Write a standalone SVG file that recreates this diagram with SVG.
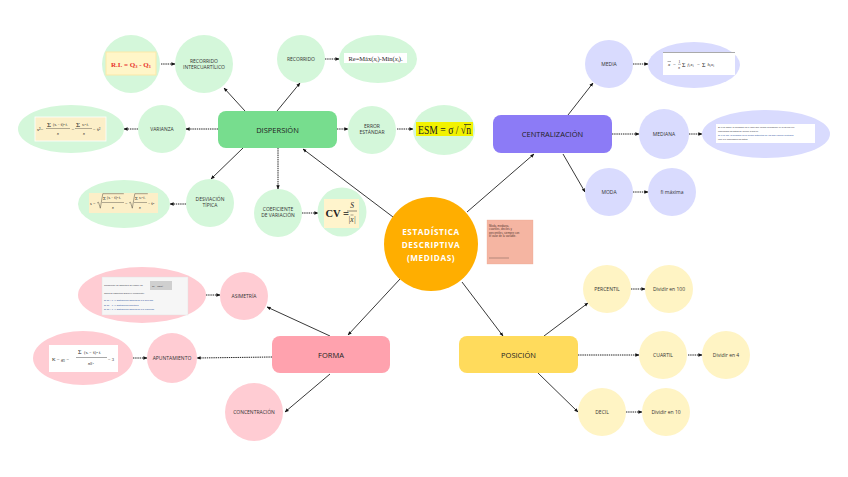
<svg xmlns="http://www.w3.org/2000/svg" width="848" height="477" viewBox="0 0 848 477">
<defs>
<marker id="ah" viewBox="0 0 6 6" refX="5.5" refY="3" markerWidth="4" markerHeight="4" markerUnits="userSpaceOnUse" orient="auto"><path d="M0,0.5 L6,3 L0,5.5 z" fill="#111"/></marker>
<style>
.lab{font-family:"Open Sans","Noto Sans","Liberation Sans",sans-serif;font-size:5px;fill:#333;text-anchor:middle}
.big{font-family:"Open Sans","Noto Sans","Liberation Sans",sans-serif;font-size:7.5px;fill:#222;text-anchor:middle}
.ctr{font-family:"Open Sans","Noto Sans","Liberation Sans",sans-serif;font-size:8.2px;font-weight:bold;fill:#fff;text-anchor:middle;letter-spacing:0.6px}
.fm{font-family:"Liberation Serif","Times New Roman",serif;fill:#222}
.tiny{font-family:"Liberation Sans",sans-serif;font-size:2.3px;fill:#334}
.note{font-family:"Liberation Sans",sans-serif;font-size:2.8px;fill:#553a33}
.g{fill:#D4F7DA}.p{fill:#D9DBFE}.k{fill:#FFCCD3}.y{fill:#FFF4C4}
.c{stroke:#222;stroke-width:0.9;fill:none;marker-end:url(#ah)}
.d{stroke:#222;stroke-width:1;fill:none;stroke-dasharray:1.4 0.8;marker-end:url(#ah)}
</style>
</defs>
<rect width="848" height="477" fill="#fff"/>

<g id="connectors">
<line class="c" x1="393" y1="217" x2="303" y2="149"/>
<line class="c" x1="467" y1="212" x2="534" y2="154"/>
<line class="c" x1="400" y1="279" x2="348" y2="335"/>
<line class="c" x1="462" y1="282" x2="503" y2="336"/>
<line class="c" x1="245" y1="111" x2="224" y2="88"/>
<line class="c" x1="277" y1="111" x2="300" y2="83"/>
<line class="d" x1="337" y1="129" x2="348" y2="129"/>
<line class="d" x1="218" y1="129" x2="186" y2="129"/>
<line class="c" x1="243" y1="148" x2="211" y2="179"/>
<line class="d" x1="278" y1="148" x2="278" y2="189"/>
<line class="d" x1="161" y1="64" x2="175" y2="64"/>
<line class="d" x1="325" y1="59" x2="339" y2="59"/>
<line class="d" x1="397" y1="129" x2="413" y2="129"/>
<line class="d" x1="138" y1="129" x2="124" y2="129"/>
<line class="d" x1="186" y1="204" x2="170" y2="204"/>
<line class="d" x1="302" y1="213" x2="318" y2="213"/>
<line class="c" x1="568" y1="115" x2="593" y2="83"/>
<line class="d" x1="633" y1="64" x2="648" y2="64"/>
<line class="d" x1="612" y1="134" x2="639" y2="134"/>
<line class="d" x1="689" y1="134" x2="702" y2="134"/>
<line class="c" x1="563" y1="154" x2="585" y2="192"/>
<line class="d" x1="633" y1="192" x2="648" y2="192"/>
<line class="c" x1="330" y1="336" x2="267" y2="307"/>
<line class="d" x1="206" y1="295" x2="220" y2="295"/>
<line class="d" x1="272" y1="357" x2="197" y2="358"/>
<line class="d" x1="133" y1="358" x2="147" y2="358"/>
<line class="c" x1="330" y1="374" x2="285" y2="412"/>
<line class="c" x1="544" y1="336" x2="588" y2="303"/>
<line class="d" x1="631" y1="289" x2="645" y2="289"/>
<line class="d" x1="578" y1="355" x2="639" y2="355"/>
<line class="d" x1="688" y1="355" x2="702" y2="355"/>
<line class="c" x1="538" y1="373" x2="578" y2="412"/>
<line class="d" x1="626" y1="412" x2="642" y2="412"/>
</g>

<g id="centro">
<circle cx="431" cy="244" r="47" fill="#FFAE00"/>
<text class="ctr" x="431" y="235">ESTADÍSTICA</text>
<text class="ctr" x="431" y="248">DESCRIPTIVA</text>
<text class="ctr" x="431" y="261">(MEDIDAS)</text>
</g>

<g id="nota">
<rect x="487" y="220" width="46" height="44" fill="#F5B5A2" stroke="#eaa08c" stroke-width="0.3"/>
<text class="note" x="489" y="226.5">Moda, mediana,</text>
<text class="note" x="489" y="230">cuartiles, deciles y</text>
<text class="note" x="489" y="233.5">percentiles, siempre con</text>
<text class="note" x="489" y="237">el valor de la variable.</text>
<rect x="489" y="257.5" width="20" height="1" fill="#8a6a60" opacity="0.6"/>
</g>

<g id="dispersion">
<rect x="218" y="111" width="119" height="37" rx="8" fill="#77DD8E"/>
<text class="big" x="277.5" y="132.5">DISPERSIÓN</text>
</g>
<g id="recorrido-inter">
<circle class="g" cx="204" cy="64" r="29"/>
<text class="lab" x="204" y="62.5">RECORRIDO</text>
<text class="lab" x="204" y="68.5">INTERCUARTÍLICO</text>
</g>
<g id="ri-formula">
<circle class="g" cx="131" cy="64" r="29"/>
<rect x="106" y="52" width="50" height="23" fill="#FFF6C8" stroke="#FBE9A8" stroke-width="1"/>
<text class="fm" x="131" y="66.5" font-size="7" font-weight="bold" text-anchor="middle" style="fill:#E8332A">R.I. = Q<tspan font-size="4.5" dy="1.5">3</tspan><tspan dy="-1.5"> - Q</tspan><tspan font-size="4.5" dy="1.5">1</tspan></text>
</g>
<g id="recorrido">
<circle class="g" cx="301" cy="59" r="24"/>
<text class="lab" x="301" y="61">RECORRIDO</text>
</g>
<g id="re-formula">
<ellipse class="g" cx="378" cy="59" rx="39" ry="24"/>
<rect x="344" y="53" width="63" height="10" fill="#fff"/>
<text class="fm" x="375.5" y="60.8" font-size="6.5" text-anchor="middle">Re=Máx(<tspan font-style="italic">x</tspan><tspan font-size="4" dy="1">i</tspan><tspan dy="-1">)-Mín(</tspan><tspan font-style="italic">x</tspan><tspan font-size="4" dy="1">i</tspan><tspan dy="-1">).</tspan></text>
</g>
<g id="error">
<circle class="g" cx="372" cy="130" r="24"/>
<text class="lab" x="372" y="128">ERROR</text>
<text class="lab" x="372" y="134">ESTÁNDAR</text>
</g>
<g id="esm">
<ellipse class="g" cx="444" cy="130" rx="31" ry="25"/>
<rect x="416" y="122" width="57" height="14" fill="#F2F200"/>
<text class="fm" x="418" y="134" font-size="12" textLength="53" lengthAdjust="spacingAndGlyphs">ESM = σ / √n</text>
<line x1="464" y1="124.5" x2="471" y2="124.5" stroke="#222" stroke-width="0.7"/>
</g>
<g id="varianza">
<circle class="g" cx="162" cy="129" r="24"/>
<text class="lab" x="162" y="131">VARIANZA</text>
</g>
<g id="var-formula">
<ellipse class="g" cx="71" cy="129" rx="53" ry="24"/>
<rect x="35" y="117" width="71" height="24" fill="#FCEFC8" stroke="#fff" stroke-width="0.8"/>
<text class="fm" x="37" y="131" font-size="5">s²=</text>
<text class="fm" x="47" y="127" font-size="7">Σ</text>
<text class="fm" x="53" y="126" font-size="3.6">(x<tspan font-size="2.5">i</tspan> − x̄)² f<tspan font-size="2.5">i</tspan></text>
<line x1="46" y1="128.5" x2="70" y2="128.5" stroke="#222" stroke-width="0.35"/>
<text class="fm" x="57" y="134.5" font-size="3.6" font-style="italic">n</text>
<text class="fm" x="71.5" y="131" font-size="5">=</text>
<text class="fm" x="76" y="127" font-size="7">Σ</text>
<text class="fm" x="82" y="126" font-size="3.6">x<tspan font-size="2.5">i</tspan>² f<tspan font-size="2.5">i</tspan></text>
<line x1="75" y1="128.5" x2="92" y2="128.5" stroke="#222" stroke-width="0.35"/>
<text class="fm" x="83" y="134.5" font-size="3.6" font-style="italic">n</text>
<text class="fm" x="93" y="131" font-size="4.5">− x̄²</text>
</g>
<g id="desviacion">
<circle class="g" cx="210" cy="203" r="24"/>
<text class="lab" x="210" y="201">DESVIACIÓN</text>
<text class="lab" x="210" y="207">TÍPICA</text>
</g>
<g id="desv-formula">
<ellipse class="g" cx="124" cy="204" rx="46" ry="24"/>
<rect x="89" y="193" width="69" height="20" fill="#FCEFC8"/>
<text class="fm" x="90" y="205" font-size="4.5">s =</text>
<path d="M97,203 l1.5,-0.8 l1.8,6 l2.5,-14.5 h21" stroke="#222" stroke-width="0.4" fill="none"/>
<text class="fm" x="103" y="200" font-size="5">Σ</text>
<text class="fm" x="107" y="199" font-size="3.4">(x<tspan font-size="2.4">i</tspan> − x̄)² f<tspan font-size="2.4">i</tspan></text>
<line x1="102" y1="202.5" x2="124" y2="202.5" stroke="#222" stroke-width="0.35"/>
<text class="fm" x="112" y="209" font-size="3.4" font-style="italic">n</text>
<text class="fm" x="125" y="205" font-size="4.5">=</text>
<path d="M129,203 l1.5,-0.8 l1.8,6 l2.5,-14.5 h13" stroke="#222" stroke-width="0.4" fill="none"/>
<text class="fm" x="135" y="200" font-size="5">Σ</text>
<text class="fm" x="139" y="199" font-size="3.4">x<tspan font-size="2.4">i</tspan>² f<tspan font-size="2.4">i</tspan></text>
<line x1="134" y1="202.5" x2="147" y2="202.5" stroke="#222" stroke-width="0.35"/>
<text class="fm" x="139" y="209" font-size="3.4" font-style="italic">n</text>
<text class="fm" x="148" y="205" font-size="3.8">− x̄²</text>
</g>
<g id="coeficiente">
<circle class="g" cx="278" cy="213" r="24"/>
<text class="lab" x="278" y="211">COEFICIENTE</text>
<text class="lab" x="278" y="217">DE VARIACIÓN</text>
</g>
<g id="cv">
<circle class="g" cx="342" cy="212" r="24.5"/>
<rect x="324" y="199" width="35" height="29" fill="#FFF4CC"/>
<text class="fm" x="325.5" y="217" font-size="10.5" font-weight="bold">CV =</text>
<text class="fm" x="352" y="208" font-size="7.5" font-style="italic" text-anchor="middle">S</text>
<line x1="347" y1="211" x2="357" y2="211" stroke="#222" stroke-width="0.5"/>
<text class="fm" x="352" y="222" font-size="7.5" font-style="italic" text-anchor="middle">|x|</text>
<line x1="350.5" y1="215" x2="353.5" y2="215" stroke="#222" stroke-width="0.4"/>
</g>

<g id="centralizacion">
<rect x="493" y="115" width="119" height="38" rx="8" fill="#8C7BF6"/>
<text class="big" x="552.5" y="137">CENTRALIZACIÓN</text>
</g>
<g id="media">
<circle class="p" cx="609" cy="64" r="24"/>
<text class="lab" x="609" y="66">MEDIA</text>
</g>
<g id="media-formula">
<ellipse class="p" cx="694" cy="65" rx="46" ry="23"/>
<rect x="663" y="52" width="72" height="23" fill="#fff"/>
<line x1="663" y1="52.5" x2="735" y2="52.5" stroke="#555" stroke-width="0.5"/>
<text class="fm" x="668" y="66" font-size="5" font-style="italic">x</text>
<line x1="667.5" y1="61.5" x2="671" y2="61.5" stroke="#222" stroke-width="0.35"/>
<text class="fm" x="673" y="66" font-size="5">=</text>
<text class="fm" x="678.5" y="63" font-size="3.5">1</text>
<line x1="678" y1="64.3" x2="681" y2="64.3" stroke="#222" stroke-width="0.3"/>
<text class="fm" x="678.3" y="68.5" font-size="3.5" font-style="italic">n</text>
<text class="fm" x="682" y="66.5" font-size="6">Σ</text>
<text class="fm" x="687.5" y="66" font-size="4.5" font-style="italic">f</text>
<text class="fm" x="689.3" y="67" font-size="3">i</text>
<text class="fm" x="690.5" y="66" font-size="4.5" font-style="italic">x</text>
<text class="fm" x="692.7" y="67" font-size="3">i</text>
<text class="fm" x="697" y="66" font-size="5">=</text>
<text class="fm" x="702" y="66.5" font-size="6">Σ</text>
<text class="fm" x="707.5" y="66" font-size="4.5" font-style="italic">h</text>
<text class="fm" x="709.8" y="67" font-size="3">i</text>
<text class="fm" x="711" y="66" font-size="4.5" font-style="italic">x</text>
<text class="fm" x="713.2" y="67" font-size="3">i</text>
</g>
<g id="mediana">
<circle class="p" cx="664" cy="134" r="25"/>
<text class="lab" x="664" y="136">MEDIANA</text>
</g>
<g id="mediana-formula">
<ellipse class="p" cx="766" cy="134" rx="64" ry="24"/>
<rect x="716" y="124" width="99" height="19" fill="#fff"/>
<text class="tiny" x="718" y="128">Si n es impar, la mediana es el valor que ocupa la posición (n+1)/2 una vez</text>
<text class="tiny" x="718" y="131.5">ordenados los datos de menor a mayor.</text>
<text class="tiny" x="718" y="136" style="fill:#2a4fa0">Si n es par, la mediana es la media aritmética de los dos valores centrales</text>
<text class="tiny" x="718" y="139.5">una vez ordenados los datos.</text>
</g>
<g id="moda">
<circle class="p" cx="609" cy="192" r="24"/>
<text class="lab" x="609" y="194">MODA</text>
</g>
<g id="fi-maxima">
<circle class="p" cx="672" cy="192" r="24"/>
<text class="lab" x="672" y="194">fi máxima</text>
</g>

<g id="forma">
<rect x="272" y="336" width="118" height="37" rx="8" fill="#FFA2AE"/>
<text class="big" x="331" y="357.5">FORMA</text>
</g>
<g id="asimetria">
<circle class="k" cx="244" cy="296" r="24"/>
<text class="lab" x="244" y="298">ASIMETRÍA</text>
</g>
<g id="asim-formula">
<ellipse class="k" cx="142" cy="295" rx="64" ry="28"/>
<rect x="102" y="277" width="86" height="38" fill="#F6F6F6" stroke="#e0e0e0" stroke-width="0.4"/>
<text class="tiny" x="104" y="286">Coeficiente de asimetría de Fisher: g1 =</text>
<rect x="150" y="281" width="22" height="9" fill="#cfcfcf"/>
<text class="tiny" x="152" y="286.5">g1 = m3/s³</text>
<text class="tiny" x="104" y="294">Tipos de asimetría según el coeficiente:</text>
<text class="tiny" x="104" y="301" style="fill:#2a4fa0">Si g1 &gt; 0 → Distribución asimétrica a la derecha</text>
<text class="tiny" x="104" y="305.5" style="fill:#2a4fa0">Si g1 = 0 → Distribución simétrica</text>
<text class="tiny" x="104" y="310" style="fill:#2a4fa0">Si g1 &lt; 0 → Distribución asimétrica a la izquierda</text>
</g>
<g id="apuntamiento">
<circle class="k" cx="172" cy="358" r="25"/>
<text class="lab" x="172" y="360">APUNTAMIENTO</text>
</g>
<g id="apunt-formula">
<ellipse class="k" cx="83" cy="358" rx="50" ry="27"/>
<rect x="49" y="345" width="69" height="27" fill="#fff"/>
<text class="fm" x="52" y="361" font-size="5">K = <tspan font-style="italic">g</tspan><tspan font-size="3" dy="1">2</tspan><tspan dy="-1"> =</tspan></text>
<text class="fm" x="78" y="354" font-size="6">Σ</text>
<text class="fm" x="84" y="353.5" font-size="4.2">(x<tspan font-size="2.6">i</tspan> − x̄)⁴ f<tspan font-size="2.6">i</tspan></text>
<line x1="76" y1="357.5" x2="107" y2="357.5" stroke="#222" stroke-width="0.4"/>
<text class="fm" x="88" y="365" font-size="4.2" font-style="italic">nS⁴</text>
<text class="fm" x="108" y="360.5" font-size="4.5">− 3</text>
</g>
<g id="concentracion">
<circle class="k" cx="254" cy="412" r="29"/>
<text class="lab" x="254" y="414">CONCENTRACIÓN</text>
</g>

<g id="posicion">
<rect x="459" y="336" width="119" height="37" rx="8" fill="#FFDB5C"/>
<text class="big" x="518.5" y="357.5">POSICIÓN</text>
</g>
<g id="percentil">
<circle class="y" cx="607" cy="289" r="24"/>
<text class="lab" x="607" y="291">PERCENTIL</text>
</g>
<g id="div100">
<circle class="y" cx="669" cy="289" r="24"/>
<text class="lab" x="669" y="291">Dividir en 100</text>
</g>
<g id="cuartil">
<circle class="y" cx="663" cy="355" r="24"/>
<text class="lab" x="663" y="357">CUARTIL</text>
</g>
<g id="div4">
<circle class="y" cx="726" cy="355" r="24"/>
<text class="lab" x="726" y="357">Dividir en 4</text>
</g>
<g id="decil">
<circle class="y" cx="602" cy="412" r="24"/>
<text class="lab" x="602" y="414">DECIL</text>
</g>
<g id="div10">
<circle class="y" cx="666" cy="412" r="24"/>
<text class="lab" x="666" y="414">Dividir en 10</text>
</g>
</svg>
